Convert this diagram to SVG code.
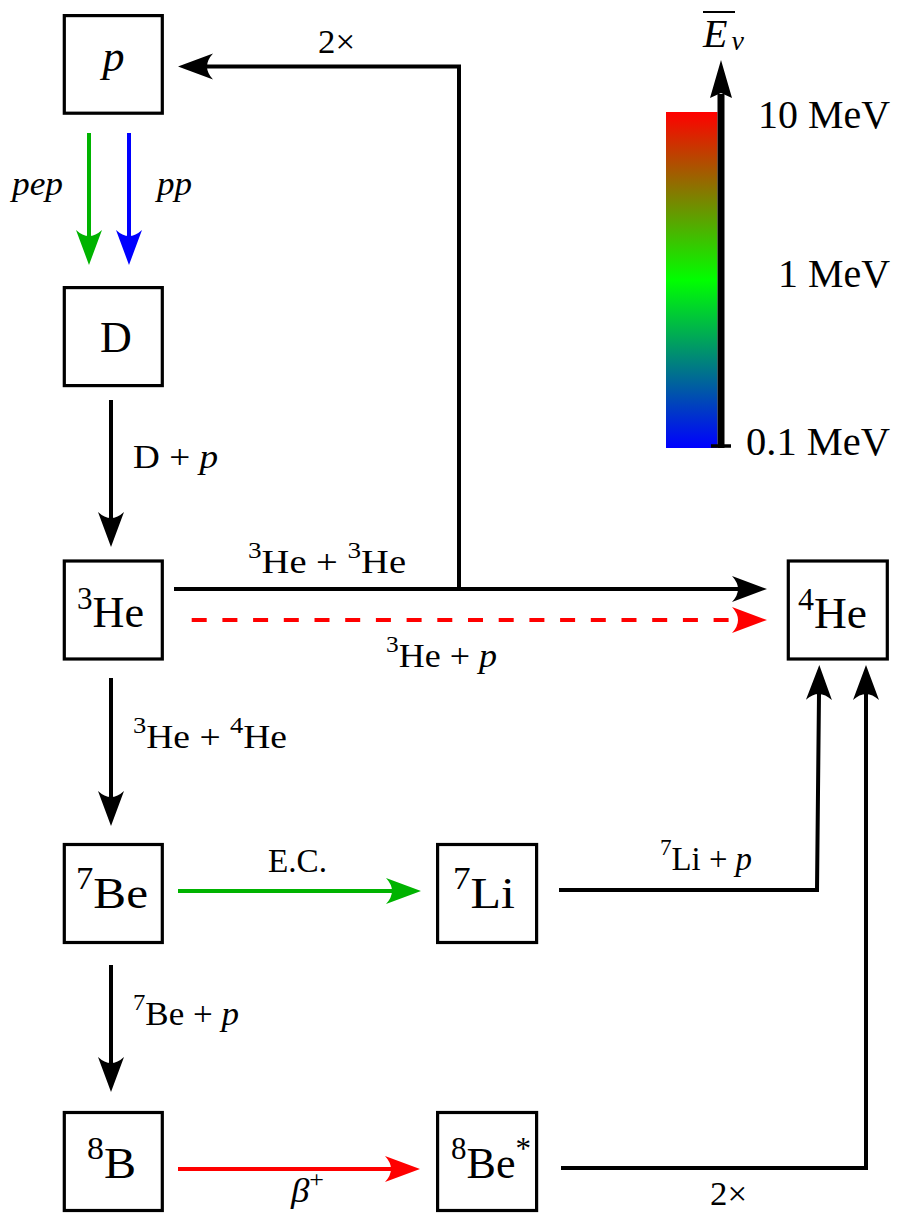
<svg xmlns="http://www.w3.org/2000/svg" width="899" height="1214" viewBox="0 0 899 1214">
  <style>
    .box{fill:#fff;stroke:#000;stroke-width:3.2}
    .nt{font-family:"Liberation Serif","DejaVu Serif",serif;font-size:44px;fill:#000}
    .et{font-family:"Liberation Serif","DejaVu Serif",serif;font-size:34px;fill:#000}
    .ct{font-family:"Liberation Serif","DejaVu Serif",serif;font-size:41px;fill:#000}
    .it{font-style:italic}
    .ln{fill:none;stroke-width:4;stroke-linejoin:miter}
    .k{stroke:#000}
    .g{stroke:#00b300}
    .b{stroke:#0000ff}
    .r{stroke:#ff0000}
  </style>
  <defs>
    <linearGradient id="cbar" x1="0" y1="0" x2="0" y2="1">
      <stop offset="0" stop-color="#ff0000"/>
      <stop offset="0.5" stop-color="#00ff00"/>
      <stop offset="1" stop-color="#0000ff"/>
    </linearGradient>
    <marker id="hk" viewBox="0 0 36 30" refX="6" refY="15" markerWidth="36" markerHeight="30" markerUnits="userSpaceOnUse" orient="auto"><path d="M0,2 L35,15 L0,28 Q12,15 0,2 Z" fill="#000"/></marker>
    <marker id="hg" viewBox="0 0 36 30" refX="6" refY="15" markerWidth="36" markerHeight="30" markerUnits="userSpaceOnUse" orient="auto"><path d="M0,2 L35,15 L0,28 Q12,15 0,2 Z" fill="#00b300"/></marker>
    <marker id="hb" viewBox="0 0 36 30" refX="6" refY="15" markerWidth="36" markerHeight="30" markerUnits="userSpaceOnUse" orient="auto"><path d="M0,2 L35,15 L0,28 Q12,15 0,2 Z" fill="#0000ff"/></marker>
    <marker id="hr" viewBox="0 0 36 30" refX="6" refY="15" markerWidth="36" markerHeight="30" markerUnits="userSpaceOnUse" orient="auto"><path d="M0,2 L35,15 L0,28 Q12,15 0,2 Z" fill="#ff0000"/></marker>
  </defs>

  <!-- Nodes -->
  <g id="node-p">
    <rect class="box" x="64.3" y="15.6" width="98" height="97.6"/>
    <text class="nt it" x="113.5" y="71" text-anchor="middle">p</text>
  </g>
  <g id="node-D">
    <rect class="box" x="64.3" y="287.6" width="98" height="98"/>
    <text class="nt" x="116" y="352" text-anchor="middle">D</text>
  </g>
  <g id="node-3He">
    <rect class="box" x="64.3" y="561" width="98" height="98"/>
    <text class="nt" x="77" y="627" textLength="67" lengthAdjust="spacingAndGlyphs"><tspan font-size="31" dy="-18">3</tspan><tspan dy="18">He</tspan></text>
  </g>
  <g id="node-4He">
    <rect class="box" x="788.3" y="561" width="99" height="98"/>
    <text class="nt" x="798" y="628" textLength="69" lengthAdjust="spacingAndGlyphs"><tspan font-size="31" dy="-18">4</tspan><tspan dy="18">He</tspan></text>
  </g>
  <g id="node-7Be">
    <rect class="box" x="64.3" y="844.5" width="98" height="98"/>
    <text class="nt" x="76" y="908" textLength="72" lengthAdjust="spacingAndGlyphs"><tspan font-size="31" dy="-19">7</tspan><tspan dy="19">Be</tspan></text>
  </g>
  <g id="node-7Li">
    <rect class="box" x="437.6" y="844.5" width="99" height="98"/>
    <text class="nt" x="453" y="908" textLength="62" lengthAdjust="spacingAndGlyphs"><tspan font-size="31" dy="-19">7</tspan><tspan dy="19">Li</tspan></text>
  </g>
  <g id="node-8B">
    <rect class="box" x="64.3" y="1112.5" width="98" height="98"/>
    <text class="nt" x="87" y="1178" textLength="49" lengthAdjust="spacingAndGlyphs"><tspan font-size="31" dy="-19">8</tspan><tspan dy="19">B</tspan></text>
  </g>
  <g id="node-8Be">
    <rect class="box" x="437.6" y="1112.5" width="99" height="98"/>
    <text class="nt" x="451" y="1178" textLength="80" lengthAdjust="spacingAndGlyphs"><tspan font-size="31" dy="-19">8</tspan><tspan dy="19">Be</tspan><tspan font-size="31" dy="-19">*</tspan></text>
  </g>

  <!-- Connectors -->
  <g id="connectors">
    <path class="ln g" d="M89,133 V236" marker-end="url(#hg)"/>
    <path class="ln b" d="M129,133 V236" marker-end="url(#hb)"/>
    <path class="ln k" d="M459,589 V66.5 H207" marker-end="url(#hk)"/>
    <path class="ln k" d="M111,400 V518" marker-end="url(#hk)"/>
    <path class="ln k" d="M174,589 H738" marker-end="url(#hk)"/>
    <path class="ln r" d="M191.7,620 H738" stroke-dasharray="15 15.7" marker-end="url(#hr)"/>
    <path class="ln k" d="M111,678 V797" marker-end="url(#hk)"/>
    <path class="ln g" d="M178,891 H392" marker-end="url(#hg)"/>
    <path class="ln k" d="M559,890 H817 L819,694" marker-end="url(#hk)"/>
    <path class="ln k" d="M111,965 V1063" marker-end="url(#hk)"/>
    <path class="ln r" d="M178,1169 H391" marker-end="url(#hr)"/>
    <path class="ln k" d="M561,1168 H866 V694" marker-end="url(#hk)"/>
  </g>

  <!-- Connector labels -->
  <g id="labels">
    <text class="et it" x="12" y="195" textLength="51" lengthAdjust="spacingAndGlyphs">pep</text>
    <text class="et it" x="157" y="195" textLength="35" lengthAdjust="spacingAndGlyphs">pp</text>
    <text class="et" x="318" y="53" textLength="37" lengthAdjust="spacingAndGlyphs">2×</text>
    <text class="et" x="133" y="468" textLength="85" lengthAdjust="spacingAndGlyphs">D + <tspan class="it">p</tspan></text>
    <text class="et" x="248" y="573" textLength="158" lengthAdjust="spacingAndGlyphs"><tspan font-size="24" dy="-15">3</tspan><tspan dy="15">He + </tspan><tspan font-size="24" dy="-15">3</tspan><tspan dy="15">He</tspan></text>
    <text class="et" x="386" y="667" textLength="111" lengthAdjust="spacingAndGlyphs"><tspan font-size="24" dy="-15">3</tspan><tspan dy="15">He + </tspan><tspan class="it">p</tspan></text>
    <text class="et" x="133" y="748" textLength="154" lengthAdjust="spacingAndGlyphs"><tspan font-size="24" dy="-15">3</tspan><tspan dy="15">He + </tspan><tspan font-size="24" dy="-15">4</tspan><tspan dy="15">He</tspan></text>
    <text class="et" x="268" y="872" textLength="59" lengthAdjust="spacingAndGlyphs">E.C.</text>
    <text class="et" x="660" y="870" textLength="92" lengthAdjust="spacingAndGlyphs"><tspan font-size="24" dy="-15">7</tspan><tspan dy="15">Li + </tspan><tspan class="it">p</tspan></text>
    <text class="et" x="133" y="1025" textLength="106" lengthAdjust="spacingAndGlyphs"><tspan font-size="24" dy="-15">7</tspan><tspan dy="15">Be + </tspan><tspan class="it">p</tspan></text>
    <text class="et" x="291" y="1202" textLength="33" lengthAdjust="spacingAndGlyphs"><tspan class="it">β</tspan><tspan font-size="24" dy="-15">+</tspan></text>
    <text class="et" x="710" y="1205" textLength="37" lengthAdjust="spacingAndGlyphs">2×</text>
  </g>

  <!-- Colour bar legend -->
  <g id="colorbar">
    <rect x="666" y="112" width="51.5" height="336" fill="url(#cbar)"/>
    <line x1="721" y1="448" x2="721" y2="94" stroke="#000" stroke-width="7"/>
    <path d="M721,60 L732,98 L721,93 L710,98 Z" fill="#000"/>
    <line x1="711" y1="446" x2="731" y2="446" stroke="#000" stroke-width="3.5"/>
    <text class="ct it" x="703" y="47" style="font-size:40px">E<tspan dx="4" dy="3" style="font-size:28px">ν</tspan></text>
    <line x1="703" y1="12" x2="735" y2="12" stroke="#000" stroke-width="2"/>
    <text class="ct" x="758" y="128" textLength="132" lengthAdjust="spacingAndGlyphs">10 MeV</text>
    <text class="ct" x="778" y="287" textLength="112" lengthAdjust="spacingAndGlyphs">1 MeV</text>
    <text class="ct" x="746" y="455" textLength="144" lengthAdjust="spacingAndGlyphs">0.1 MeV</text>
  </g>
</svg>
